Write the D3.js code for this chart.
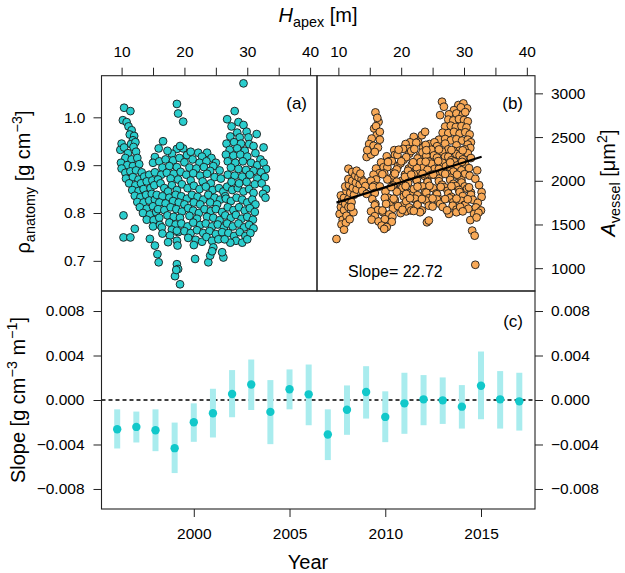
<!DOCTYPE html>
<html><head><meta charset="utf-8">
<script src="https://cdn.jsdelivr.net/npm/d3@7"></script>
<style>
body{margin:0;background:#fff}
svg{display:block}
text{font-family:"Liberation Sans",Arial,Helvetica,sans-serif;fill:#000}
</style>
</head><body><svg id="chart" width="625" height="573"></svg>
<script>
// ---------- tick definitions ----------
const heightTicks = [10, 15, 20, 25, 30, 35, 40];
const heightLabels = [10, 20, 30, 40];
const rhoTicks = [0.7, 0.8, 0.9, 1.0];
const vesselTicks = [1000, 1500, 2000, 2500, 3000];
const slopeTicks = [-0.008, -0.004, 0, 0.004, 0.008];
const slopeTickLabels = ["\u22120.008", "\u22120.004", "0.000", "0.004", "0.008"];
const yearTicks = [2000, 2005, 2010, 2015];

// ---------- panel (c): yearly slope estimates ----------
const years = [1996,1997,1998,1999,2000,2001,2002,2003,2004,2005,2006,2007,2008,2009,2010,2011,2012,2013,2014,2015,2016,2017];
const slopeMid = [-0.00263,-0.00242,-0.00272,-0.00433,-0.00200,-0.00119,0.00054,0.00140,-0.00107,0.00096,0.00051,-0.00310,-0.00087,0.00072,-0.00152,-0.00030,0.00006,-0.00003,-0.00060,0.00128,0.00006,-0.00012];
const slopeLow = [-0.00436,-0.00382,-0.00460,-0.00657,-0.00376,-0.00337,-0.00155,-0.00090,-0.00397,-0.00084,-0.00227,-0.00540,-0.00313,-0.00167,-0.00379,-0.00304,-0.00227,-0.00215,-0.00257,-0.00173,-0.00257,-0.00275];
const slopeHigh = [-0.00084,-0.00104,-0.00084,-0.00203,-0.00030,0.00101,0.00269,0.00364,0.00179,0.00275,0.00319,-0.00084,0.00131,0.00304,0.00078,0.00245,0.00224,0.00203,0.00134,0.00436,0.00260,0.00245];

// ---------- panel (a): H_apex [m] vs rho_anatomy ----------
const panelA = [
[29.4,1.071],[10.4,1.020],[11.4,1.013],[18.8,1.028],[19.0,1.008],[19.8,0.991],[28.0,1.013],[26.8,0.996],[28.6,0.990],[29.4,0.984],[27.5,0.981],
[10.2,0.994],[10.8,0.990],[11.1,0.981],[11.6,0.973],[11.3,0.964],[12.0,0.961],[11.8,0.952],[10.0,0.945],[11.5,0.944],[12.2,0.948],[9.8,0.932],[10.4,0.937],[11.9,0.938],[11.0,0.925],[12.3,0.928],[10.6,0.915],[11.6,0.912],[12.5,0.915],[9.9,0.905],[10.9,0.900],[11.8,0.898],[12.8,0.902],
[10.0,0.893],[10.6,0.884],[11.4,0.887],[12.3,0.889],[13.2,0.885],[10.7,0.872],[11.8,0.875],[12.7,0.870],[13.6,0.876],[14.4,0.880],[11.2,0.862],[12.2,0.858],[13.1,0.862],[14.0,0.866],[14.9,0.868],[11.7,0.848],[12.7,0.846],[13.5,0.850],[14.6,0.852],[12.1,0.836],[13.0,0.833],[13.9,0.838],[14.8,0.840],[12.5,0.823],[13.5,0.822],[14.4,0.826],[15.3,0.828],[12.9,0.812],[14.0,0.809],[15.0,0.814],[13.4,0.800],[14.5,0.797],[15.5,0.802],[10.3,0.795],[14.0,0.786],[15.1,0.785],[16.0,0.790],[12.1,0.767],[10.3,0.749],[11.4,0.749],[14.5,0.746],[15.0,0.772],[16.1,0.775],[15.3,0.732],[15.7,0.714],[15.9,0.697],[16.4,0.770],[16.5,0.757],
[16.6,0.950],[15.9,0.935],[18.8,0.934],[19.8,0.935],[22.2,0.926],[23.6,0.926],[20.4,0.921],[18.0,0.924],[15.3,0.917],[17.3,0.930],[19.3,0.940],[21.0,0.928],[22.8,0.918],[24.3,0.915],[25.0,0.905],
[15.0,0.905],[16.0,0.908],[17.0,0.912],[18.2,0.910],[19.2,0.915],[20.0,0.906],[21.3,0.912],[22.4,0.905],[23.5,0.908],[24.6,0.898],[25.6,0.889],[16.5,0.895],[17.6,0.898],[18.8,0.896],[20.8,0.895],[21.9,0.893],[23.1,0.896],[24.1,0.888],
[15.3,0.885],[16.3,0.880],[17.2,0.884],[18.3,0.882],[19.4,0.886],[20.3,0.880],[21.4,0.883],[22.5,0.878],[23.6,0.882],[24.8,0.875],[25.8,0.872],[15.8,0.870],[17.8,0.872],[19.0,0.870],[21.0,0.868],[22.9,0.866],[24.2,0.862],
[15.2,0.858],[16.2,0.862],[16.8,0.852],[18.0,0.858],[19.6,0.860],[20.5,0.852],[21.5,0.857],[22.4,0.850],[23.4,0.855],[24.5,0.848],[25.5,0.852],[26.2,0.845],[17.4,0.845],[18.8,0.848],
[15.6,0.838],[16.5,0.835],[17.6,0.832],[18.6,0.838],[19.5,0.835],[20.4,0.830],[21.2,0.838],[22.1,0.834],[23.0,0.828],[23.8,0.838],[24.8,0.832],[25.7,0.828],[26.5,0.835],[16.0,0.822],[17.0,0.820],[18.2,0.825],[19.1,0.822],[20.0,0.818],[21.5,0.822],[22.5,0.818],[24.1,0.822],[25.2,0.818],
[15.8,0.808],[16.8,0.806],[17.8,0.812],[18.7,0.808],[19.6,0.803],[20.6,0.810],[21.4,0.805],[22.3,0.800],[23.2,0.808],[24.2,0.804],[25.0,0.808],[26.0,0.802],[17.3,0.795],[18.3,0.792],[19.3,0.790],[20.8,0.794],[22.0,0.788],[23.6,0.792],[24.6,0.790],[25.6,0.785],
[17.6,0.780],[18.6,0.776],[19.5,0.778],[20.5,0.772],[21.4,0.780],[22.5,0.775],[23.4,0.778],[24.4,0.772],[25.3,0.776],[26.3,0.770],[18.0,0.765],[19.0,0.760],[20.0,0.762],[21.0,0.758],[22.0,0.764],[23.0,0.758],[24.0,0.762],[25.0,0.756],[26.0,0.760],
[18.8,0.763],[17.7,0.753],[17.4,0.739],[18.8,0.742],[18.9,0.732],[20.6,0.748],[21.8,0.744],[22.8,0.740],[23.5,0.750],[24.4,0.742],[24.6,0.728],[25.4,0.745],[21.5,0.733],
[18.8,0.693],[19.0,0.683],[18.5,0.668],[19.3,0.651],[18.7,0.681],[21.7,0.704],[23.8,0.697],[24.1,0.711],[26.2,0.707],[26.0,0.718],[24.4,0.720],
[26.8,0.855],[27.6,0.848],[28.5,0.852],[29.4,0.845],[30.3,0.850],[31.0,0.842],
[26.6,0.830],[27.4,0.825],[28.3,0.832],[29.2,0.828],[30.0,0.822],[30.8,0.828],[31.3,0.818],
[26.9,0.812],[27.8,0.806],[28.7,0.812],[29.6,0.805],[30.4,0.810],[31.2,0.802],
[26.5,0.795],[27.4,0.790],[28.2,0.796],[29.1,0.788],[30.0,0.792],[30.9,0.786],
[26.8,0.778],[27.7,0.772],[28.6,0.778],[29.5,0.770],[30.3,0.775],[31.0,0.768],
[27.0,0.758],[27.9,0.752],[28.8,0.760],[29.7,0.752],[30.5,0.758],[28.2,0.742],[29.2,0.738],[30.0,0.745],[27.3,0.738],[26.4,0.745],
[28.4,0.968],[29.9,0.970],[31.5,0.965],[27.3,0.960],[28.8,0.958],[30.2,0.958],[26.7,0.945],[27.9,0.948],[29.0,0.945],[30.3,0.944],[32.6,0.937],[31.0,0.940],[27.2,0.932],[28.4,0.935],[29.6,0.930],[26.6,0.922],[27.8,0.920],[28.9,0.922],[30.0,0.918],[31.3,0.925],[32.1,0.912],[26.9,0.908],[28.1,0.905],[29.3,0.908],[30.6,0.905],[31.6,0.900],[32.6,0.905],[33.0,0.892],[27.4,0.895],[28.6,0.892],[29.8,0.890],[31.0,0.888],[32.2,0.885],[26.9,0.880],[28.0,0.878],[29.2,0.876],[30.4,0.880],[31.6,0.872],[32.8,0.875],[27.5,0.865],[28.7,0.862],[29.9,0.865],[31.2,0.860],[32.3,0.862],[33.0,0.850],[32.5,0.840],[32.9,0.832]
];

// ---------- panel (b): H_apex [m] vs A_vessel [um2] ----------
const panelB = [
[9.7,1334],[10.2,1620],[10.7,1555],[10.4,1700],[10.9,1665],[11.3,1600],[10.6,1765],[11.1,1735],[11.6,1700],[10.4,1832],[10.9,1805],[11.6,1790],[12.1,1755],[11.3,1880],[11.9,1862],[12.5,1840],[11.1,1935],[11.7,1950],[12.3,1918],[12.9,1900],[11.6,2020],[12.2,2000],[12.8,1978],[13.4,1958],[11.6,2138],[12.2,2100],[12.7,2060],[13.2,2040],[13.7,2018],[12.9,2115],[13.5,2082],[14.0,1990],[14.3,1940],[13.8,1885],[14.5,1850],[10.5,1500],[11.2,1520],[10.9,1440],[11.8,1560],[12.4,1640],[12.0,1700],
[15.9,2782],[16.4,2674],[15.7,2598],[16.1,2521],[15.3,2483],[16.6,2470],[14.9,2420],[15.6,2400],[16.3,2380],[14.5,2272],[15.2,2300],[15.8,2330],[14.6,2350],[16.0,2625],[16.6,2560],[16.2,2720],
[26.5,2904],[29.1,2866],[29.9,2885],[26.8,2847],[28.4,2808],[30.5,2828],[29.5,2840],[26.2,2751],[27.6,2760],[28.8,2770],[29.8,2755],[30.2,2785],[27.5,2700],[28.3,2690],[29.2,2705],[30.0,2695],[30.6,2680],[27.0,2620],[27.9,2630],[28.7,2615],[29.6,2625],[30.4,2610],[26.6,2550],[27.5,2545],[28.4,2560],[29.3,2540],[30.2,2555],[30.9,2530],[26.0,2470],[27.0,2478],[27.9,2462],[28.8,2475],[29.7,2460],[30.6,2470],[31.1,2440],
[22.0,2502],[22.7,2445],[23.3,2521],[23.8,2560],[24.5,2420],[21.4,2440],[25.3,2440],
[20.7,2420],[21.1,2365],[22.4,2435],[23.5,2380],[23.9,2410],[25.2,2350],[25.7,2395],[27.0,2425],[27.5,2360],[28.8,2405],[29.3,2345],[30.6,2415],[31.0,2375],
[18.9,2350],[19.0,2295],[20.3,2365],[21.3,2310],[21.6,2340],[22.9,2280],[23.4,2325],[24.8,2355],[25.2,2290],[26.5,2335],[27.0,2275],[28.3,2345],[28.8,2305],[30.1,2360],[30.6,2315],
[17.7,2280],[18.1,2225],[19.4,2295],[20.4,2240],[20.8,2270],[22.1,2210],[22.6,2255],[24.0,2285],[24.4,2220],[25.7,2265],[26.2,2205],[27.5,2275],[28.0,2235],[29.3,2290],[29.8,2245],[31.1,2260],
[16.8,2210],[17.2,2155],[18.5,2225],[19.5,2170],[19.9,2200],[21.2,2140],[21.7,2185],[23.1,2215],[23.5,2150],[24.8,2195],[25.3,2135],[26.6,2205],[27.1,2165],[28.4,2220],[28.9,2175],[30.2,2190],[30.8,2145],[32.1,2119],
[16.0,2140],[16.5,2085],[17.8,2155],[18.9,2100],[19.3,2130],[20.6,2070],[21.1,2115],[22.5,2145],[22.9,2080],[24.2,2125],[24.7,2065],[26.0,2135],[26.5,2095],[27.8,2150],[28.3,2105],[29.6,2120],[30.1,2075],
[15.6,2070],[16.0,2015],[17.3,2085],[18.4,2030],[18.8,2060],[20.1,2000],[20.6,2045],[22.0,2075],[22.4,2010],[23.7,2055],[24.2,1995],[25.5,2065],[26.0,2025],[27.3,2080],[27.8,2035],[29.1,2050],[29.6,2005],[30.9,2058],[31.8,2023],
[15.2,2000],[15.7,1945],[17.8,2015],[18.9,1960],[19.3,1990],[20.6,1930],[21.1,1975],[22.5,2005],[22.9,1940],[24.2,1985],[24.7,1925],[26.0,1995],[26.5,1955],[27.8,2010],[28.3,1965],[29.6,1980],[30.1,1935],[32.4,1950],
[15.5,1930],[17.5,1875],[18.7,1945],[19.8,1890],[20.2,1920],[21.5,1860],[22.0,1905],[23.4,1935],[23.8,1870],[25.1,1915],[25.6,1855],[26.9,1925],[27.4,1885],[28.7,1940],[29.2,1895],[30.5,1910],[31.1,1865],[32.8,1870],
[15.8,1860],[18.0,1805],[19.3,1875],[20.4,1820],[20.8,1850],[22.1,1790],[22.6,1835],[24.0,1865],[24.4,1800],[25.7,1845],[26.2,1785],[27.5,1855],[28.0,1815],[29.3,1870],[29.8,1825],[31.1,1840],[32.8,1815],
[15.4,1790],[15.9,1735],[17.4,1805],[18.5,1750],[19.0,1780],[20.3,1720],[20.8,1765],[22.2,1795],[22.6,1730],[23.9,1775],[24.4,1715],[25.7,1785],[26.2,1736],[27.7,1800],[28.3,1755],[29.6,1770],[30.1,1725],[31.4,1783],[32.2,1748],
[15.8,1720],[16.3,1665],[17.6,1735],[18.7,1680],[19.5,1710],[20.8,1650],[21.3,1695],[22.6,1725],[23.3,1660],[25.0,1705],[26.6,1700],[28.2,1715],[28.8,1670],[30.2,1725],[30.7,1680],[31.9,1695],[32.7,1660],
[15.2,1650],[15.8,1595],[17.1,1640],[18.1,1615],[18.6,1590],[19.9,1630],[21.6,1660],[23.0,1640],[27.6,1621],[28.8,1640],[29.4,1700],[31.6,1620],[32.3,1635],
[15.3,1555],[16.4,1535],[17.4,1560],[18.5,1530],[24.1,1525],[24.4,1545],[31.0,1550],[32.0,1580],
[16.9,1487],[17.7,1470],[17.3,1449],[31.3,1430],[31.7,1372],[31.8,1039],
[19.6,2355],[22.1,2362],[24.0,2350],[26.0,2358],[28.0,2352],[29.8,2348],
[17.9,2215],[20.0,2222],[21.9,2212],[23.9,2218],[25.9,2225],[27.8,2210],[29.7,2216],
[17.0,2075],[19.0,2082],[21.6,2070],[23.4,2080],[25.1,2072],[27.0,2078],[28.9,2070],
[16.6,1935],[18.4,1928],[20.7,1940],[22.6,1932],[24.5,1942],[26.3,1930],[28.0,1938],[30.8,1925],
[18.8,1795],[21.4,1800],[23.3,1792],[25.0,1798],[27.0,1790],[28.8,1796],[30.6,1788],
[17.0,1660],[20.2,1668],[22.0,1655],[27.3,1662],[29.8,1650]
];
const fitSlope = 22.72;
const fitIntercept = 1530;
const fitLabel = "Slope= 22.72";

// ---------- layout ----------
const svg = d3.select("#chart");
const L = 101.5, M = 317, R = 535, T = 75.7, MID = 291, B = 509;
const FS = "15.5px";

const xA = d3.scaleLinear().domain([6.8, 41.1]).range([L, M]);
const xB = d3.scaleLinear().domain([6.6, 41.3]).range([M, R]);
const yA = d3.scaleLinear().domain([0.637, 1.087]).range([MID, T]);
const yB = d3.scaleLinear().domain([739, 3202]).range([MID, T]);
const xC = d3.scaleLinear().domain([1995.18, 2017.82]).range([L, R]);
const yC = d3.scaleLinear().domain([-0.0098, 0.0098]).range([B, MID]);

function styleAxis(g) {
  g.select(".domain").remove();
  g.selectAll("line").attr("stroke", "#222").attr("stroke-width", 1);
  g.selectAll("text").style("font-size", FS).attr("fill", "#000")
   .style("font-family", '"Liberation Sans",Arial,sans-serif');
}

// scatter (a)
svg.append("g").selectAll("circle").data(panelA).join("circle")
  .attr("cx", d => xA(d[0])).attr("cy", d => yA(d[1])).attr("r", 3.9)
  .attr("fill", "#2ACDCD").attr("stroke", "#1a1a1a").attr("stroke-width", 0.9);

// scatter (b)
svg.append("g").selectAll("circle").data(panelB).join("circle")
  .attr("cx", d => xB(d[0])).attr("cy", d => yB(d[1])).attr("r", 3.9)
  .attr("fill", "#F8A957").attr("stroke", "#1a1a1a").attr("stroke-width", 0.9);

// regression line (b)
const hExt = d3.extent(panelB, d => d[0]);
svg.append("line")
  .attr("x1", xB(hExt[0])).attr("y1", yB(fitIntercept + fitSlope * hExt[0]))
  .attr("x2", xB(hExt[1])).attr("y2", yB(fitIntercept + fitSlope * hExt[1]))
  .attr("stroke", "#000").attr("stroke-width", 2.2);

// panel (c) zero line
svg.append("line").attr("x1", L).attr("x2", R).attr("y1", yC(0)).attr("y2", yC(0))
  .attr("stroke", "#000").attr("stroke-width", 1.4).attr("stroke-dasharray", "4,3");

// error bars
svg.append("g").selectAll("line").data(years).join("line")
  .attr("x1", (d) => xC(d)).attr("x2", (d) => xC(d))
  .attr("y1", (d, i) => yC(slopeLow[i])).attr("y2", (d, i) => yC(slopeHigh[i]))
  .attr("stroke", "#A9ECEE").attr("stroke-width", 6);
svg.append("g").selectAll("circle").data(years).join("circle")
  .attr("cx", d => xC(d)).attr("cy", (d, i) => yC(slopeMid[i])).attr("r", 4.2)
  .attr("fill", "#12C8CA");

// boxes
const box = svg.append("g").attr("fill", "none").attr("stroke", "#222").attr("stroke-width", 1.1);
box.append("rect").attr("x", L).attr("y", T).attr("width", M - L).attr("height", MID - T);
box.append("rect").attr("x", M).attr("y", T).attr("width", R - M).attr("height", MID - T);
box.append("rect").attr("x", L).attr("y", MID).attr("width", R - L).attr("height", B - MID);

// axes
const topFmt = d => heightLabels.includes(d) ? String(d) : "";
svg.append("g").attr("transform", `translate(0,${T})`)
  .call(d3.axisTop(xA).tickValues(heightTicks).tickFormat(topFmt).tickSize(8).tickPadding(11)).call(styleAxis);
svg.append("g").attr("transform", `translate(0,${T})`)
  .call(d3.axisTop(xB).tickValues(heightTicks).tickFormat(topFmt).tickSize(8).tickPadding(11)).call(styleAxis);
svg.append("g").attr("transform", `translate(${L},0)`)
  .call(d3.axisLeft(yA).tickValues(rhoTicks).tickFormat(d3.format(".1f")).tickSize(8).tickPadding(8)).call(styleAxis);
svg.append("g").attr("transform", `translate(${R},0)`)
  .call(d3.axisRight(yB).tickValues(vesselTicks).tickFormat(d3.format("d")).tickSize(8).tickPadding(8)).call(styleAxis);
svg.append("g").attr("transform", `translate(${L},0)`)
  .call(d3.axisLeft(yC).tickValues(slopeTicks).tickFormat((d, i) => slopeTickLabels[i]).tickSize(8).tickPadding(9)).call(styleAxis);
svg.append("g").attr("transform", `translate(${R},0)`)
  .call(d3.axisRight(yC).tickValues(slopeTicks).tickFormat((d, i) => slopeTickLabels[i]).tickSize(8).tickPadding(8)).call(styleAxis);
svg.append("g").attr("transform", `translate(0,${B})`)
  .call(d3.axisBottom(xC).tickValues(yearTicks).tickFormat(d3.format("d")).tickSize(8).tickPadding(11)).call(styleAxis);

// rich text helper: parts = [text, mode] mode: "n" normal, "i" italic, "sub", "sup"
function rich(x, y, rot, parts, size) {
  const t = svg.append("text").attr("text-anchor", "middle")
    .attr("transform", `translate(${x},${y}) rotate(${rot})`).style("font-size", size + "px");
  let off = 0;
  parts.forEach(([s, m]) => {
    const ts = t.append("tspan").text(s);
    let target = 0;
    if (m === "sub") { target = size * 0.25; ts.style("font-size", (size * 0.72) + "px"); }
    else if (m === "sup") { target = -size * 0.42; ts.style("font-size", (size * 0.72) + "px"); }
    else if (m === "i") { ts.style("font-style", "italic"); }
    ts.attr("dy", target - off);
    off = target;
  });
  return t;
}

rich(318, 22, 0, [["H", "i"], ["apex", "sub"], [" [m]", "n"]], 20);
rich(30, 182, -90, [["\u03C1", "n"], ["anatomy", "sub"], [" [g cm", "n"], ["\u22123", "sup"], ["]", "n"]], 20);
rich(25, 400, -90, [["Slope [g cm", "n"], ["\u22123", "sup"], [" m", "n"], ["\u22121", "sup"], ["]", "n"]], 20);
rich(615, 183, -90, [["A", "i"], ["vessel", "sub"], [" [\u03BCm", "n"], ["2", "sup"], ["]", "n"]], 20);
rich(308, 569, 0, [["Year", "n"]], 20);

// panel labels
svg.append("text").attr("x", 307).attr("y", 109).attr("text-anchor", "end").style("font-size", "17px").text("(a)");
svg.append("text").attr("x", 523).attr("y", 109).attr("text-anchor", "end").style("font-size", "17px").text("(b)");
svg.append("text").attr("x", 523).attr("y", 327).attr("text-anchor", "end").style("font-size", "17px").text("(c)");
svg.append("text").attr("x", 348).attr("y", 277).style("font-size", "16px").text(fitLabel);
</script>
</body></html>
